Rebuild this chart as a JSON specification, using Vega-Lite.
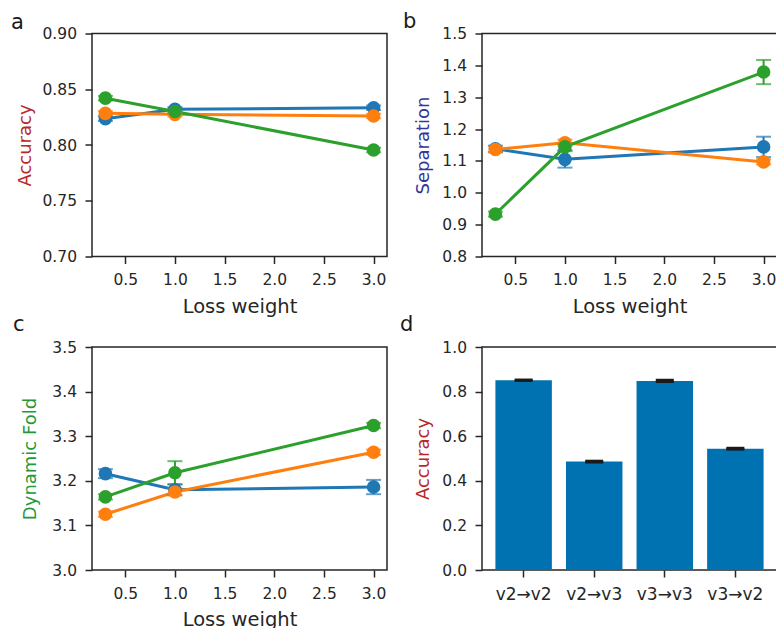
{
  "$schema": "https://vega.github.io/schema/vega-lite/v6.json",
  "padding": {"left": 10, "top": 9.5, "right": 0, "bottom": 0},
  "background": "white",
  "config": {
    "font": "DejaVu Sans",
    "view": {"stroke": "#262626", "strokeWidth": 1.5},
    "axis": {"grid": false, "domain": false, "labelOverlap": false, "tickColor": "#262626", "tickSize": 7, "tickWidth": 1.5, "labelColor": "#262626", "labelFontSize": 15.5, "titleFontWeight": "normal", "titleColor": "#262626"},
    "axisX": {"titleFontSize": 19.5, "titlePadding": 9, "labelPadding": 9},
    "axisY": {"titleFontSize": 18, "titlePadding": 7.5, "labelPadding": 8.5},
    "title": {"fontSize": 21, "fontWeight": "normal", "anchor": "start", "frame": "group", "color": "#1a1a1a", "baseline": "alphabetic"}
  },
  "datasets": {
    "lines": [
      {"panel": "a", "series": "s1", "w": 0.3, "v": 0.8236, "lo": 0.8216, "hi": 0.8256},
      {"panel": "a", "series": "s1", "w": 1.0, "v": 0.832, "lo": 0.830, "hi": 0.834},
      {"panel": "a", "series": "s1", "w": 3.0, "v": 0.8334, "lo": 0.8314, "hi": 0.8354},
      {"panel": "a", "series": "s2", "w": 0.3, "v": 0.8284, "lo": 0.8264, "hi": 0.8304},
      {"panel": "a", "series": "s2", "w": 1.0, "v": 0.8275, "lo": 0.8255, "hi": 0.8295},
      {"panel": "a", "series": "s2", "w": 3.0, "v": 0.826, "lo": 0.824, "hi": 0.828},
      {"panel": "a", "series": "s3", "w": 0.3, "v": 0.842, "lo": 0.840, "hi": 0.844},
      {"panel": "a", "series": "s3", "w": 1.0, "v": 0.830, "lo": 0.828, "hi": 0.832},
      {"panel": "a", "series": "s3", "w": 3.0, "v": 0.7955, "lo": 0.7935, "hi": 0.7975},
      {"panel": "b", "series": "s1", "w": 0.3, "v": 1.138, "lo": 1.128, "hi": 1.148},
      {"panel": "b", "series": "s1", "w": 1.0, "v": 1.105, "lo": 1.079, "hi": 1.131},
      {"panel": "b", "series": "s1", "w": 3.0, "v": 1.144, "lo": 1.112, "hi": 1.176},
      {"panel": "b", "series": "s2", "w": 0.3, "v": 1.136, "lo": 1.126, "hi": 1.146},
      {"panel": "b", "series": "s2", "w": 1.0, "v": 1.157, "lo": 1.147, "hi": 1.167},
      {"panel": "b", "series": "s2", "w": 3.0, "v": 1.097, "lo": 1.089, "hi": 1.105},
      {"panel": "b", "series": "s3", "w": 0.3, "v": 0.933, "lo": 0.925, "hi": 0.941},
      {"panel": "b", "series": "s3", "w": 1.0, "v": 1.144, "lo": 1.134, "hi": 1.154},
      {"panel": "b", "series": "s3", "w": 3.0, "v": 1.379, "lo": 1.341, "hi": 1.417},
      {"panel": "c", "series": "s1", "w": 0.3, "v": 3.216, "lo": 3.206, "hi": 3.226},
      {"panel": "c", "series": "s1", "w": 1.0, "v": 3.18, "lo": 3.168, "hi": 3.192},
      {"panel": "c", "series": "s1", "w": 3.0, "v": 3.186, "lo": 3.170, "hi": 3.202},
      {"panel": "c", "series": "s2", "w": 0.3, "v": 3.125, "lo": 3.119, "hi": 3.131},
      {"panel": "c", "series": "s2", "w": 1.0, "v": 3.175, "lo": 3.167, "hi": 3.183},
      {"panel": "c", "series": "s2", "w": 3.0, "v": 3.264, "lo": 3.258, "hi": 3.270},
      {"panel": "c", "series": "s3", "w": 0.3, "v": 3.164, "lo": 3.158, "hi": 3.170},
      {"panel": "c", "series": "s3", "w": 1.0, "v": 3.218, "lo": 3.192, "hi": 3.244},
      {"panel": "c", "series": "s3", "w": 3.0, "v": 3.324, "lo": 3.318, "hi": 3.330}
    ],
    "bars": [
      {"cond": "v2→v2", "v": 0.851, "lo": 0.849, "hi": 0.853},
      {"cond": "v2→v3", "v": 0.486, "lo": 0.483, "hi": 0.489},
      {"cond": "v3→v3", "v": 0.848, "lo": 0.844, "hi": 0.852},
      {"cond": "v3→v2", "v": 0.544, "lo": 0.541, "hi": 0.547}
    ]
  },
  "concat": [
    {
      "width": 295, "height": 223,
      "title": {"text": "a", "dx": -81, "offset": -6.5},
      "data": {"name": "lines"},
      "transform": [{"filter": "datum.panel === 'a'"}],
      "encoding": {
        "x": {"field": "w", "type": "quantitative", "scale": {"domain": [0.165, 3.135], "nice": false, "zero": false}, "axis": {"values": [0.5, 1, 1.5, 2, 2.5, 3], "format": ".1f", "title": "Loss weight"}},
        "color": {"field": "series", "type": "nominal", "scale": {"domain": ["s1", "s2", "s3"], "range": ["#1f77b4", "#ff7f0e", "#2ca02c"]}, "legend": null}
      },
      "layer": [
        {"mark": {"type": "line", "strokeWidth": 3}, "encoding": {"y": {"field": "v", "type": "quantitative", "scale": {"domain": [0.7, 0.9], "nice": false, "zero": false}, "axis": {"values": [0.7, 0.75, 0.8, 0.85, 0.9], "format": ".2f", "title": "Accuracy", "titleColor": "#b8282a"}}}},
        {"mark": {"type": "rule", "strokeWidth": 2}, "encoding": {"y": {"field": "lo", "type": "quantitative", "axis": {"values": [0.7, 0.75, 0.8, 0.85, 0.9], "format": ".2f", "title": "Accuracy", "titleColor": "#b8282a"}}, "y2": {"field": "hi"}}},
        {"mark": {"type": "tick", "orient": "horizontal", "size": 15, "thickness": 2}, "encoding": {"y": {"field": "lo", "type": "quantitative", "axis": {"values": [0.7, 0.75, 0.8, 0.85, 0.9], "format": ".2f", "title": "Accuracy", "titleColor": "#b8282a"}}}},
        {"mark": {"type": "tick", "orient": "horizontal", "size": 15, "thickness": 2}, "encoding": {"y": {"field": "hi", "type": "quantitative", "axis": {"values": [0.7, 0.75, 0.8, 0.85, 0.9], "format": ".2f", "title": "Accuracy", "titleColor": "#b8282a"}}}},
        {"mark": {"type": "point", "filled": true, "size": 185, "opacity": 1}, "encoding": {"y": {"field": "v", "type": "quantitative", "axis": {"values": [0.7, 0.75, 0.8, 0.85, 0.9], "format": ".2f", "title": "Accuracy", "titleColor": "#b8282a"}}}}
      ]
    },
    {
      "width": 295, "height": 223,
      "title": {"text": "b", "dx": -79, "offset": -5},
      "data": {"name": "lines"},
      "transform": [{"filter": "datum.panel === 'b'"}],
      "encoding": {
        "x": {"field": "w", "type": "quantitative", "scale": {"domain": [0.165, 3.135], "nice": false, "zero": false}, "axis": {"values": [0.5, 1, 1.5, 2, 2.5, 3], "format": ".1f", "title": "Loss weight"}},
        "color": {"field": "series", "type": "nominal", "scale": {"domain": ["s1", "s2", "s3"], "range": ["#1f77b4", "#ff7f0e", "#2ca02c"]}, "legend": null}
      },
      "layer": [
        {"mark": {"type": "line", "strokeWidth": 3}, "encoding": {"y": {"field": "v", "type": "quantitative", "scale": {"domain": [0.8, 1.5], "nice": false, "zero": false}, "axis": {"values": [0.8, 0.9, 1.0, 1.1, 1.2, 1.3, 1.4, 1.5], "format": ".1f", "title": "Separation", "titleColor": "#34349a", "titlePadding": 9.5}}}},
        {"mark": {"type": "rule", "strokeWidth": 2}, "encoding": {"y": {"field": "lo", "type": "quantitative", "axis": {"values": [0.8, 0.9, 1.0, 1.1, 1.2, 1.3, 1.4, 1.5], "format": ".1f", "title": "Separation", "titleColor": "#34349a", "titlePadding": 9.5}}, "y2": {"field": "hi"}}},
        {"mark": {"type": "tick", "orient": "horizontal", "size": 15, "thickness": 2}, "encoding": {"y": {"field": "lo", "type": "quantitative", "axis": {"values": [0.8, 0.9, 1.0, 1.1, 1.2, 1.3, 1.4, 1.5], "format": ".1f", "title": "Separation", "titleColor": "#34349a", "titlePadding": 9.5}}}},
        {"mark": {"type": "tick", "orient": "horizontal", "size": 15, "thickness": 2}, "encoding": {"y": {"field": "hi", "type": "quantitative", "axis": {"values": [0.8, 0.9, 1.0, 1.1, 1.2, 1.3, 1.4, 1.5], "format": ".1f", "title": "Separation", "titleColor": "#34349a", "titlePadding": 9.5}}}},
        {"mark": {"type": "point", "filled": true, "size": 185, "opacity": 1}, "encoding": {"y": {"field": "v", "type": "quantitative", "axis": {"values": [0.8, 0.9, 1.0, 1.1, 1.2, 1.3, 1.4, 1.5], "format": ".1f", "title": "Separation", "titleColor": "#34349a", "titlePadding": 9.5}}}}
      ]
    },
    {
      "width": 295, "height": 223,
      "title": {"text": "c", "dx": -79, "offset": 5.5},
      "data": {"name": "lines"},
      "transform": [{"filter": "datum.panel === 'c'"}],
      "encoding": {
        "x": {"field": "w", "type": "quantitative", "scale": {"domain": [0.165, 3.135], "nice": false, "zero": false}, "axis": {"values": [0.5, 1, 1.5, 2, 2.5, 3], "format": ".1f", "title": "Loss weight"}},
        "color": {"field": "series", "type": "nominal", "scale": {"domain": ["s1", "s2", "s3"], "range": ["#1f77b4", "#ff7f0e", "#2ca02c"]}, "legend": null}
      },
      "layer": [
        {"mark": {"type": "line", "strokeWidth": 3}, "encoding": {"y": {"field": "v", "type": "quantitative", "scale": {"domain": [3.0, 3.5], "nice": false, "zero": false}, "axis": {"values": [3.0, 3.1, 3.2, 3.3, 3.4, 3.5], "format": ".1f", "title": "Dynamic Fold", "titleColor": "#23993b", "titlePadding": 12}}}},
        {"mark": {"type": "rule", "strokeWidth": 2}, "encoding": {"y": {"field": "lo", "type": "quantitative", "axis": {"values": [3.0, 3.1, 3.2, 3.3, 3.4, 3.5], "format": ".1f", "title": "Dynamic Fold", "titleColor": "#23993b", "titlePadding": 12}}, "y2": {"field": "hi"}}},
        {"mark": {"type": "tick", "orient": "horizontal", "size": 15, "thickness": 2}, "encoding": {"y": {"field": "lo", "type": "quantitative", "axis": {"values": [3.0, 3.1, 3.2, 3.3, 3.4, 3.5], "format": ".1f", "title": "Dynamic Fold", "titleColor": "#23993b", "titlePadding": 12}}}},
        {"mark": {"type": "tick", "orient": "horizontal", "size": 15, "thickness": 2}, "encoding": {"y": {"field": "hi", "type": "quantitative", "axis": {"values": [3.0, 3.1, 3.2, 3.3, 3.4, 3.5], "format": ".1f", "title": "Dynamic Fold", "titleColor": "#23993b", "titlePadding": 12}}}},
        {"mark": {"type": "point", "filled": true, "size": 185, "opacity": 1}, "encoding": {"y": {"field": "v", "type": "quantitative", "axis": {"values": [3.0, 3.1, 3.2, 3.3, 3.4, 3.5], "format": ".1f", "title": "Dynamic Fold", "titleColor": "#23993b", "titlePadding": 12}}}}
      ]
    },
    {
      "width": 295, "height": 223,
      "title": {"text": "d", "dx": -82, "offset": 5.5},
      "data": {"name": "bars"},
      "encoding": {
        "x": {"field": "cond", "type": "nominal", "sort": null, "scale": {"paddingInner": 0.2, "paddingOuter": 0.19}, "axis": {"labelAngle": 0, "title": null, "labelFontSize": 17}}
      },
      "layer": [
        {"mark": {"type": "bar", "color": "#0072b2"}, "encoding": {"y": {"field": "v", "type": "quantitative", "scale": {"domain": [0, 1], "nice": false}, "axis": {"values": [0, 0.2, 0.4, 0.6, 0.8, 1.0], "format": ".1f", "title": "Accuracy", "titleColor": "#b8282a", "titlePadding": 9}}}},
        {"mark": {"type": "rule", "color": "#1a1a1a", "strokeWidth": 1.5}, "encoding": {"y": {"field": "lo", "type": "quantitative", "axis": {"values": [0, 0.2, 0.4, 0.6, 0.8, 1.0], "format": ".1f", "title": "Accuracy", "titleColor": "#b8282a", "titlePadding": 9}}, "y2": {"field": "hi"}}},
        {"mark": {"type": "tick", "orient": "horizontal", "color": "#1a1a1a", "size": 18, "thickness": 2.5, "opacity": 1}, "encoding": {"y": {"field": "lo", "type": "quantitative", "axis": {"values": [0, 0.2, 0.4, 0.6, 0.8, 1.0], "format": ".1f", "title": "Accuracy", "titleColor": "#b8282a", "titlePadding": 9}}}},
        {"mark": {"type": "tick", "orient": "horizontal", "color": "#1a1a1a", "size": 18, "thickness": 2.5, "opacity": 1}, "encoding": {"y": {"field": "hi", "type": "quantitative", "axis": {"values": [0, 0.2, 0.4, 0.6, 0.8, 1.0], "format": ".1f", "title": "Accuracy", "titleColor": "#b8282a", "titlePadding": 9}}}}
      ]
    }
  ],
  "columns": 2,
  "spacing": {"row": 90.5, "column": 95},
  "bounds": "flush"
}
